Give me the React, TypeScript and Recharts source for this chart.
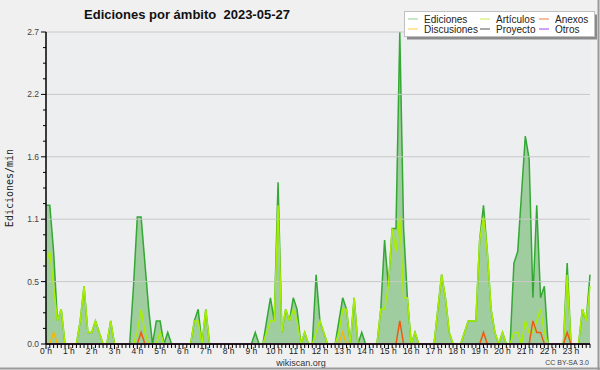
import React from 'react';
import { ComposedChart, Area, Line, XAxis, YAxis, CartesianGrid, ReferenceLine } from 'recharts';

// 10-minute slots, 00:00 .. 23:50 (144 values, 12 per row = 2 hours)
const EDICIONES = [
  1.2, 1.2, 0.8, 0.2, 0.3, 0, 0, 0, 0, 0.2, 0.5, 0.1,
  0.1, 0.2, 0.1, 0, 0, 0.2, 0, 0, 0, 0, 0, 0.5,
  1.1, 1.1, 0.7, 0.3, 0, 0.2, 0.2, 0, 0.1, 0, 0, 0,
  0, 0, 0, 0.2, 0.3, 0, 0.3, 0, 0, 0, 0, 0,
  0, 0, 0, 0, 0, 0, 0, 0.1, 0, 0, 0.2, 0.4,
  0.2, 1.4, 0.1, 0.3, 0.2, 0.4, 0.3, 0, 0.1, 0, 0, 0.6,
  0.2, 0.1, 0, 0, 0, 0.2, 0.4, 0.3, 0, 0.4, 0, 0.1,
  0, 0, 0, 0, 0.3, 0.9, 0.5, 1.0, 1.0, 2.7, 1.0, 0.4,
  0, 0.1, 0, 0, 0, 0, 0, 0.3, 0.6, 0.4, 0.1, 0,
  0, 0, 0.1, 0.2, 0.2, 0.2, 0.9, 1.2, 0.8, 0.3, 0.1, 0,
  0.1, 0, 0, 0.7, 0.8, 1.3, 1.8, 1.6, 0.4, 1.2, 0.4, 0.5,
  0, 0, 0, 0, 0, 0.7, 0, 0, 0, 0.3, 0.2, 0.6,
];

const ARTICULOS = [
  0.7, 0.8, 0.5, 0.2, 0.3, 0, 0, 0, 0, 0.2, 0.5, 0.1,
  0.1, 0.2, 0.1, 0, 0, 0.2, 0, 0, 0, 0, 0, 0,
  0.1, 0.3, 0.1, 0, 0, 0, 0.1, 0, 0, 0, 0, 0,
  0, 0, 0, 0.2, 0.2, 0, 0.3, 0, 0, 0, 0, 0,
  0, 0, 0, 0, 0, 0, 0, 0, 0, 0, 0.1, 0.2,
  0.2, 1.2, 0.1, 0.3, 0.2, 0.3, 0.2, 0, 0.1, 0, 0, 0.1,
  0.2, 0.1, 0, 0, 0, 0.1, 0.3, 0.3, 0, 0.4, 0, 0,
  0, 0, 0, 0, 0.3, 0.3, 0.5, 1.0, 0.8, 1.1, 0.4, 0.4,
  0, 0.1, 0, 0, 0, 0, 0, 0.3, 0.6, 0.4, 0.1, 0,
  0, 0, 0.1, 0.2, 0.2, 0.2, 0.9, 1.1, 0.8, 0.3, 0.1, 0,
  0.1, 0, 0, 0.1, 0.1, 0, 0.2, 0.1, 0.1, 0.2, 0.3, 0.1,
  0, 0, 0, 0, 0, 0.6, 0, 0, 0, 0.3, 0.2, 0.5,
];

const ANEXOS = [
  0, 0, 0, 0, 0, 0, 0, 0, 0, 0, 0, 0,
  0, 0, 0, 0, 0, 0, 0, 0, 0, 0, 0, 0,
  0, 0.1, 0, 0, 0, 0, 0, 0, 0, 0, 0, 0,
  0, 0, 0, 0, 0, 0, 0, 0, 0, 0, 0, 0,
  0, 0, 0, 0, 0, 0, 0, 0, 0, 0, 0, 0,
  0, 0, 0, 0, 0, 0, 0, 0, 0, 0, 0, 0,
  0, 0, 0, 0, 0, 0, 0, 0, 0, 0, 0, 0,
  0, 0, 0, 0, 0, 0, 0, 0, 0, 0.2, 0, 0,
  0, 0, 0, 0, 0, 0, 0, 0, 0, 0, 0, 0,
  0, 0, 0, 0, 0, 0, 0, 0.1, 0, 0, 0, 0,
  0, 0, 0, 0, 0, 0, 0, 0, 0.2, 0.1, 0.1, 0,
  0, 0, 0, 0, 0, 0.1, 0, 0, 0, 0, 0, 0,
];

const DISCUSIONES = [
  0, 0, 0.1, 0, 0, 0, 0, 0, 0, 0, 0, 0,
  0, 0, 0, 0, 0, 0, 0, 0, 0, 0, 0, 0,
  0, 0, 0, 0, 0, 0, 0, 0, 0, 0, 0, 0,
  0, 0, 0, 0, 0, 0, 0, 0, 0, 0, 0, 0,
  0, 0, 0, 0, 0, 0, 0, 0, 0, 0, 0, 0,
  0, 0, 0, 0, 0, 0, 0, 0, 0, 0, 0, 0,
  0, 0, 0, 0, 0, 0, 0.1, 0, 0, 0, 0, 0,
  0, 0, 0, 0, 0, 0, 0, 0, 0, 0, 0, 0,
  0, 0, 0, 0, 0, 0, 0, 0, 0, 0, 0, 0,
  0, 0, 0, 0, 0, 0, 0, 0, 0, 0, 0, 0,
  0, 0, 0, 0, 0, 0, 0, 0, 0, 0, 0, 0,
  0, 0, 0, 0, 0, 0, 0, 0, 0, 0, 0, 0,
];

const PROYECTO = [
  0, 0, 0, 0, 0, 0, 0, 0, 0, 0, 0, 0,
  0, 0, 0, 0, 0, 0, 0, 0, 0, 0, 0, 0,
  0, 0, 0, 0, 0, 0, 0, 0, 0, 0, 0, 0,
  0, 0, 0, 0, 0, 0, 0, 0, 0, 0, 0, 0,
  0, 0, 0, 0, 0, 0, 0, 0, 0, 0, 0, 0,
  0, 0, 0, 0, 0, 0, 0, 0, 0, 0, 0, 0,
  0, 0, 0, 0, 0, 0, 0, 0, 0, 0, 0, 0,
  0, 0, 0, 0, 0, 0, 0, 0, 0, 0, 0, 0,
  0, 0, 0, 0, 0, 0, 0, 0, 0, 0, 0, 0,
  0, 0, 0, 0, 0, 0, 0, 0, 0, 0, 0, 0,
  0, 0, 0, 0, 0, 0, 0, 0, 0, 0, 0, 0,
  0, 0, 0, 0, 0, 0, 0, 0, 0, 0, 0, 0,
];

const OTROS = [
  0, 0, 0, 0, 0, 0, 0, 0, 0, 0, 0, 0,
  0, 0, 0, 0, 0, 0, 0, 0, 0, 0, 0, 0,
  0, 0, 0, 0, 0, 0, 0, 0, 0, 0, 0, 0,
  0, 0, 0, 0, 0, 0, 0, 0, 0, 0, 0, 0,
  0, 0, 0, 0, 0, 0, 0, 0, 0, 0, 0, 0,
  0, 0, 0, 0, 0, 0, 0, 0, 0, 0, 0, 0,
  0, 0, 0, 0, 0, 0, 0, 0, 0, 0, 0, 0,
  0, 0, 0, 0, 0, 0, 0, 0, 0, 0, 0, 0,
  0, 0, 0, 0, 0, 0, 0, 0, 0, 0, 0, 0,
  0, 0, 0, 0, 0, 0, 0, 0, 0, 0, 0, 0,
  0, 0, 0, 0, 0, 0, 0, 0, 0, 0, 0, 0,
  0, 0, 0, 0, 0, 0, 0, 0, 0, 0, 0, 0,
];

const HOUR_LABELS = [
  '0 h', '1 h', '2 h', '3 h', '4 h', '5 h', '6 h', '7 h', '8 h', '9 h', '10 h', '11 h',
  '12 h', '13 h', '14 h', '15 h', '16 h', '17 h', '18 h', '19 h', '20 h', '21 h', '22 h', '23 h',
];

const Y_TICKS = [
  0, 0.135, 0.27, 0.405, 0.54, 0.675, 0.81, 0.945, 1.08, 1.215, 1.35,
  1.485, 1.62, 1.755, 1.89, 2.025, 2.16, 2.295, 2.43, 2.565, 2.7,
];
const Y_GRID = [0.54, 1.08, 1.62, 2.16, 2.7];
const Y_LABELS = ['0.0', '0.5', '1.1', '1.6', '2.2', '2.7'];

const TITLE = 'Ediciones por ámbito  2023-05-27';
const Y_TITLE = 'Ediciones/min';

const LEGEND = [
  { name: 'Ediciones', color: '#8fd08f', col: 0, row: 0 },
  { name: 'Artículos', color: '#c8ee50', col: 1, row: 0 },
  { name: 'Anexos', color: '#ee7a40', col: 2, row: 0 },
  { name: 'Discusiones', color: '#ffcc40', col: 0, row: 1 },
  { name: 'Proyecto', color: '#555555', col: 1, row: 1 },
  { name: 'Otros', color: '#9a44ee', col: 2, row: 1 },
];

const SLOTS = EDICIONES.map((_, i) => i);
const X_TICKS = SLOTS;

const data = SLOTS.map((i) => ({
  i,
  ed: EDICIONES[i],
  art: ARTICULOS[i],
  anx: ANEXOS[i],
  dis: DISCUSIONES[i],
  pro: PROYECTO[i],
  otr: OTROS[i],
}));

const FONT = '"Liberation Sans", Arial, sans-serif';

const XTick = (props: any) => {
  const { x, y, payload } = props;
  const v = payload.value;
  const major = v % 6 === 0;
  return (
    <g>
      <line x1={x} x2={x} y1={y} y2={y + (major ? 5 : 4)} stroke="#000" strokeWidth={1} />
      {major && (
        <text x={x} y={y + 9.5} textAnchor="middle" fontSize={8.5} fontFamily={FONT} fill="#222">
          {HOUR_LABELS[v / 6]}
        </text>
      )}
    </g>
  );
};

const YTick = (props: any) => {
  const { x, y, index } = props;
  const major = index % 4 === 0;
  return (
    <g>
      <line x1={x - (major ? 5 : 3)} x2={x} y1={y} y2={y} stroke="#000" strokeWidth={1} />
      {major && (
        <text x={x - 7} y={y + 3} textAnchor="end" fontSize={8.5} fontFamily={FONT} fill="#444">
          {Y_LABELS[index / 4]}
        </text>
      )}
    </g>
  );
};

const YLabel = (props: any) => {
  const vb = props.viewBox || { x: 0, y: 32, width: 46, height: 312 };
  const cx = vb.x + 9;
  const cy = vb.y + vb.height / 2;
  return (
    <text
      x={cx}
      y={cy}
      transform={`rotate(-90 ${cx} ${cy})`}
      textAnchor="middle"
      dominantBaseline="central"
      fontSize={10}
      fontFamily='"DejaVu Sans Mono", monospace'
      fill="#222"
    >
      {Y_TITLE}
    </text>
  );
};

export default function App() {
  return (
    <div
      style={{
        position: 'absolute',
        left: 0,
        top: 0,
        width: 600,
        height: 370,
        background: '#f0f0f0',
        overflow: 'hidden',
      }}
    >
      <ComposedChart width={600} height={370} data={data} margin={{ top: 32, right: 10, bottom: 0, left: 0 }}>
        <CartesianGrid fill="#eceef0" horizontal={false} vertical={false} stroke="none" />
        {Y_GRID.map((v) => (
          <ReferenceLine key={v} y={v} stroke="#c8c8c8" strokeWidth={1} />
        ))}
        <Area
          type="linear"
          dataKey="ed"
          stroke="#33a833"
          strokeWidth={1.5}
          fill="#a0cda0"
          fillOpacity={1}
          isAnimationActive={false}
          dot={false}
          activeDot={false}
        />
        <Line type="linear" dataKey="art" stroke="#a8ee00" strokeWidth={1.5} dot={false} activeDot={false} isAnimationActive={false} />
        <Line type="linear" dataKey="dis" stroke="#f5b800" strokeWidth={1.5} dot={false} activeDot={false} isAnimationActive={false} />
        <Line type="linear" dataKey="anx" stroke="#ee5a10" strokeWidth={1.5} dot={false} activeDot={false} isAnimationActive={false} />
        <Line type="linear" dataKey="pro" stroke="#555555" strokeWidth={1} dot={false} activeDot={false} isAnimationActive={false} />
        <Line type="linear" dataKey="otr" stroke="#9a44ee" strokeWidth={1} dot={false} activeDot={false} isAnimationActive={false} />
        <XAxis
          dataKey="i"
          type="number"
          domain={[0, 143]}
          ticks={X_TICKS}
          interval={0}
          height={26}
          tickSize={0}
          tickMargin={0}
          tickLine={false}
          axisLine={{ stroke: '#000', strokeWidth: 1.5 }}
          tick={(p: any) => <XTick {...p} />}
          allowDecimals={false}
        />
        <YAxis
          type="number"
          domain={[0, 2.7]}
          ticks={Y_TICKS}
          interval={0}
          width={46}
          tickSize={0}
          tickMargin={0}
          tickLine={false}
          axisLine={{ stroke: '#000', strokeWidth: 1.5 }}
          tick={(p: any) => <YTick {...p} />}
          label={(p: any) => <YLabel {...p} />}
        />
      </ComposedChart>
      <svg
        width={600}
        height={370}
        style={{ position: 'absolute', left: 0, top: 0, pointerEvents: 'none' }}
      >
        <text x={187} y={19} textAnchor="middle" fontSize={13} fontWeight="bold" fontFamily={FONT} fill="#111" style={{ whiteSpace: 'pre' }}>
          {TITLE}
        </text>
        <rect x={407} y={14.5} width={190} height={25} fill="#8a8a8a" />
        <rect x={404.5} y={11.5} width={190} height={25} fill="#ffffff" stroke="#c0c0c0" strokeWidth={1} />
        {LEGEND.map((e) => {
          const lx = 408 + e.col * 72 - (e.col === 2 ? 13 : 0);
          const ly = 19 + e.row * 10;
          return (
            <g key={e.name}>
              <line x1={lx} x2={lx + 10} y1={ly} y2={ly} stroke={e.color} strokeWidth={1} />
              <text x={lx + 16} y={ly + 3.5} fontSize={10} fontFamily={FONT} fill="#222">
                {e.name}
              </text>
            </g>
          );
        })}
        <text x={301} y={365.5} textAnchor="middle" fontSize={9} fontFamily={FONT} fill="#333">
          wikiscan.org
        </text>
        <text x={589} y={365} textAnchor="end" fontSize={7} fontFamily={FONT} fill="#444">
          CC BY-SA 3.0
        </text>
        <line x1={598.5} x2={598.5} y1={0} y2={370} stroke="#9a9a9a" strokeWidth={2} />
        <line x1={0} x2={600} y1={368.5} y2={368.5} stroke="#9a9a9a" strokeWidth={2} />
      </svg>
    </div>
  );
}
